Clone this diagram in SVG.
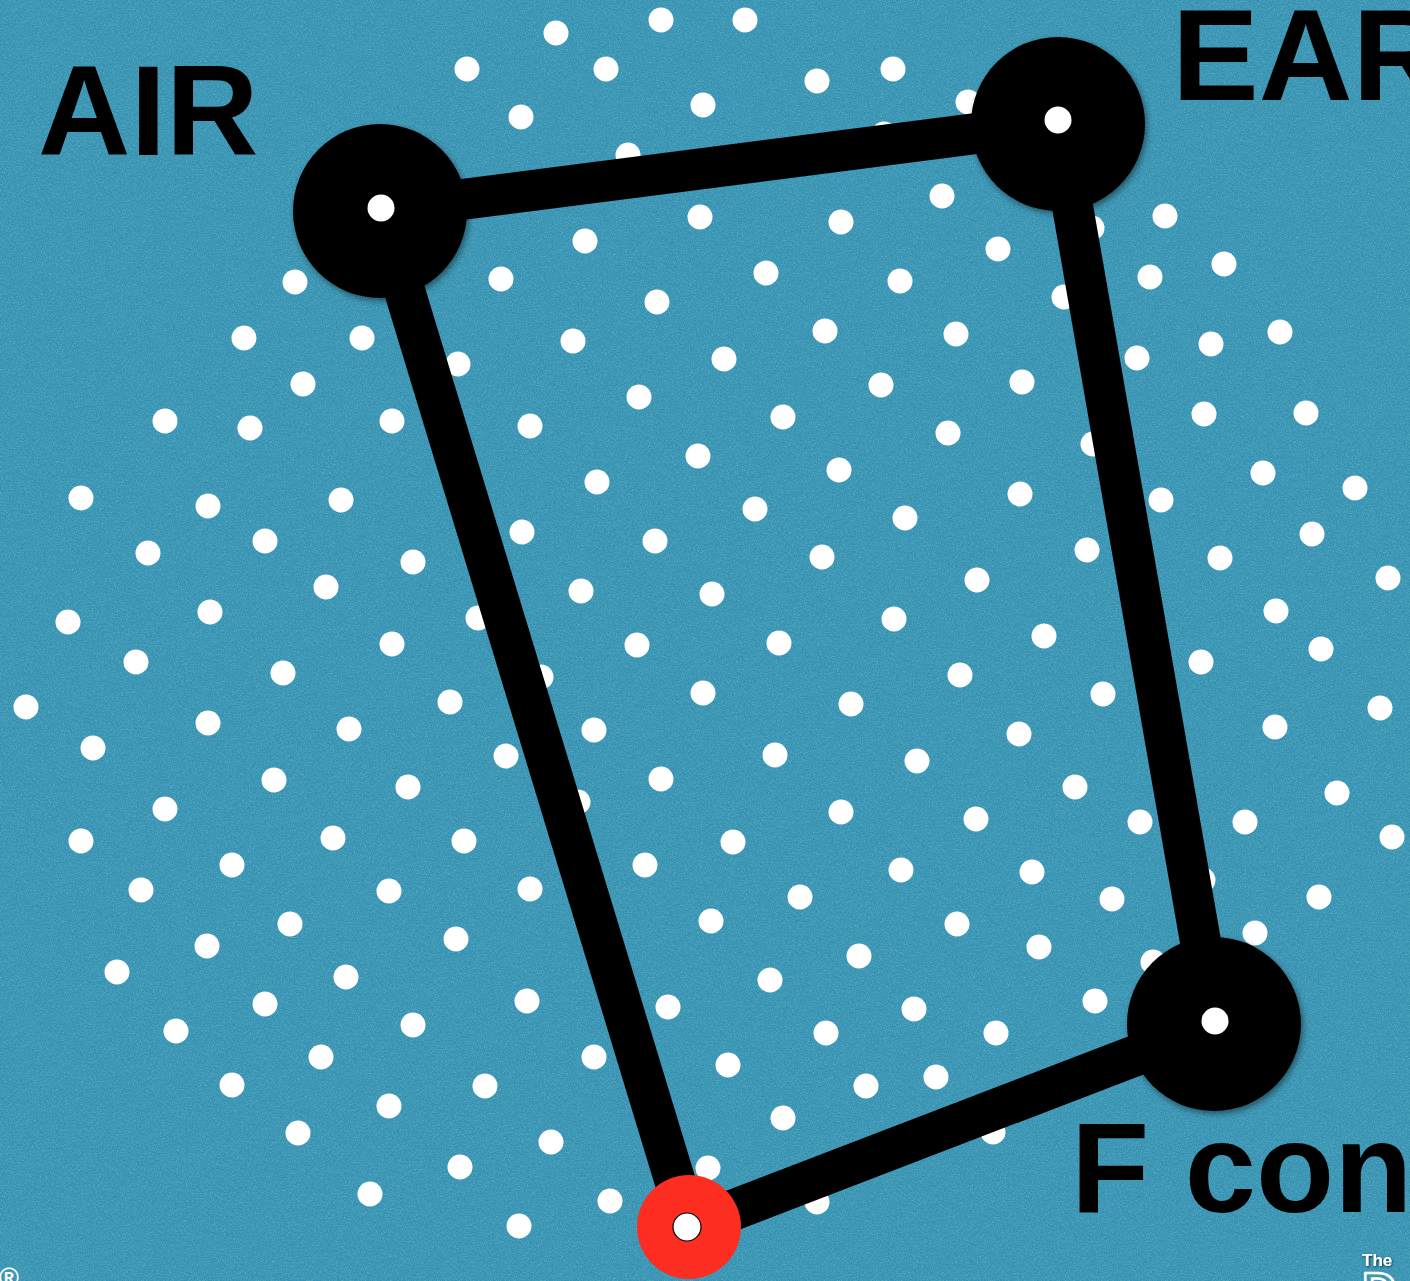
<svg xmlns="http://www.w3.org/2000/svg" width="1410" height="1281" viewBox="0 0 1410 1281">
<defs>
<filter id="noise" x="0" y="0" width="1410" height="1281" filterUnits="userSpaceOnUse">
<feTurbulence type="fractalNoise" baseFrequency="0.75" numOctaves="2" seed="7" result="t"/>
<feColorMatrix in="t" type="matrix" values="0 0 0 0 0.1  0 0 0 0 0.4  0 0 0 0 0.53  2.4 0 0 0 -0.95"/>
</filter>
<filter id="shadow" x="-20%" y="-20%" width="140%" height="140%">
<feDropShadow dx="2" dy="3" stdDeviation="3" flood-color="#000" flood-opacity="0.45"/>
</filter>
<filter id="tshadow" x="-20%" y="-20%" width="140%" height="140%">
<feDropShadow dx="1" dy="1" stdDeviation="1" flood-color="#000" flood-opacity="0.7"/>
</filter>
</defs>
<style>
.dot{fill:#fff}
.edge{stroke:#000;stroke-width:41;stroke-linecap:butt;fill:none}
.hub{fill:#000}
.core{fill:#fff}
.label{font-family:"Liberation Sans",Arial,Helvetica,sans-serif;font-weight:bold;fill:#000}
</style>
<rect width="1410" height="1281" fill="#3591b1"/>
<rect width="1410" height="1281" fill="#000" filter="url(#noise)"/>
<g id="dots">
<circle class="dot" cx="556" cy="33" r="12.5"/>
<circle class="dot" cx="661" cy="20" r="12.5"/>
<circle class="dot" cx="745" cy="20" r="12.5"/>
<circle class="dot" cx="467" cy="69" r="12.5"/>
<circle class="dot" cx="606" cy="69" r="12.5"/>
<circle class="dot" cx="703" cy="105" r="12.5"/>
<circle class="dot" cx="817" cy="81" r="12.5"/>
<circle class="dot" cx="893" cy="69" r="12.5"/>
<circle class="dot" cx="521" cy="117" r="12.5"/>
<circle class="dot" cx="628" cy="155" r="12.5"/>
<circle class="dot" cx="968" cy="102" r="12.5"/>
<circle class="dot" cx="884" cy="134" r="12.5"/>
<circle class="dot" cx="700" cy="217" r="12.5"/>
<circle class="dot" cx="585" cy="241" r="12.5"/>
<circle class="dot" cx="841" cy="222" r="12.5"/>
<circle class="dot" cx="942" cy="196" r="12.5"/>
<circle class="dot" cx="1165" cy="216" r="12.5"/>
<circle class="dot" cx="998" cy="249" r="12.5"/>
<circle class="dot" cx="1092" cy="228" r="12.5"/>
<circle class="dot" cx="501" cy="279" r="12.5"/>
<circle class="dot" cx="657" cy="302" r="12.5"/>
<circle class="dot" cx="766" cy="273" r="12.5"/>
<circle class="dot" cx="900" cy="281" r="12.5"/>
<circle class="dot" cx="1150" cy="277" r="12.5"/>
<circle class="dot" cx="1224" cy="264" r="12.5"/>
<circle class="dot" cx="1064" cy="297" r="12.5"/>
<circle class="dot" cx="295" cy="282" r="12.5"/>
<circle class="dot" cx="244" cy="338" r="12.5"/>
<circle class="dot" cx="362" cy="338" r="12.5"/>
<circle class="dot" cx="573" cy="341" r="12.5"/>
<circle class="dot" cx="458" cy="364" r="12.5"/>
<circle class="dot" cx="724" cy="359" r="12.5"/>
<circle class="dot" cx="825" cy="331" r="12.5"/>
<circle class="dot" cx="956" cy="334" r="12.5"/>
<circle class="dot" cx="1137" cy="358" r="12.5"/>
<circle class="dot" cx="1211" cy="344" r="12.5"/>
<circle class="dot" cx="1280" cy="332" r="12.5"/>
<circle class="dot" cx="303" cy="384" r="12.5"/>
<circle class="dot" cx="639" cy="397" r="12.5"/>
<circle class="dot" cx="881" cy="385" r="12.5"/>
<circle class="dot" cx="1022" cy="382" r="12.5"/>
<circle class="dot" cx="165" cy="421" r="12.5"/>
<circle class="dot" cx="250" cy="428" r="12.5"/>
<circle class="dot" cx="392" cy="421" r="12.5"/>
<circle class="dot" cx="530" cy="426" r="12.5"/>
<circle class="dot" cx="783" cy="417" r="12.5"/>
<circle class="dot" cx="948" cy="433" r="12.5"/>
<circle class="dot" cx="1204" cy="414" r="12.5"/>
<circle class="dot" cx="1306" cy="413" r="12.5"/>
<circle class="dot" cx="1093" cy="444" r="12.5"/>
<circle class="dot" cx="698" cy="456" r="12.5"/>
<circle class="dot" cx="839" cy="470" r="12.5"/>
<circle class="dot" cx="1263" cy="473" r="12.5"/>
<circle class="dot" cx="597" cy="482" r="12.5"/>
<circle class="dot" cx="81" cy="498" r="12.5"/>
<circle class="dot" cx="208" cy="506" r="12.5"/>
<circle class="dot" cx="341" cy="500" r="12.5"/>
<circle class="dot" cx="755" cy="509" r="12.5"/>
<circle class="dot" cx="905" cy="518" r="12.5"/>
<circle class="dot" cx="1020" cy="494" r="12.5"/>
<circle class="dot" cx="1161" cy="500" r="12.5"/>
<circle class="dot" cx="1355" cy="488" r="12.5"/>
<circle class="dot" cx="148" cy="553" r="12.5"/>
<circle class="dot" cx="265" cy="541" r="12.5"/>
<circle class="dot" cx="413" cy="562" r="12.5"/>
<circle class="dot" cx="522" cy="532" r="12.5"/>
<circle class="dot" cx="655" cy="541" r="12.5"/>
<circle class="dot" cx="822" cy="557" r="12.5"/>
<circle class="dot" cx="1087" cy="550" r="12.5"/>
<circle class="dot" cx="1220" cy="558" r="12.5"/>
<circle class="dot" cx="1312" cy="534" r="12.5"/>
<circle class="dot" cx="326" cy="587" r="12.5"/>
<circle class="dot" cx="581" cy="591" r="12.5"/>
<circle class="dot" cx="712" cy="594" r="12.5"/>
<circle class="dot" cx="977" cy="580" r="12.5"/>
<circle class="dot" cx="1388" cy="578" r="12.5"/>
<circle class="dot" cx="68" cy="622" r="12.5"/>
<circle class="dot" cx="210" cy="612" r="12.5"/>
<circle class="dot" cx="478" cy="618" r="12.5"/>
<circle class="dot" cx="894" cy="619" r="12.5"/>
<circle class="dot" cx="1044" cy="636" r="12.5"/>
<circle class="dot" cx="1276" cy="611" r="12.5"/>
<circle class="dot" cx="136" cy="662" r="12.5"/>
<circle class="dot" cx="392" cy="644" r="12.5"/>
<circle class="dot" cx="637" cy="645" r="12.5"/>
<circle class="dot" cx="779" cy="643" r="12.5"/>
<circle class="dot" cx="1201" cy="662" r="12.5"/>
<circle class="dot" cx="1321" cy="649" r="12.5"/>
<circle class="dot" cx="283" cy="673" r="12.5"/>
<circle class="dot" cx="541" cy="677" r="12.5"/>
<circle class="dot" cx="960" cy="675" r="12.5"/>
<circle class="dot" cx="26" cy="707" r="12.5"/>
<circle class="dot" cx="450" cy="702" r="12.5"/>
<circle class="dot" cx="703" cy="693" r="12.5"/>
<circle class="dot" cx="851" cy="704" r="12.5"/>
<circle class="dot" cx="1103" cy="694" r="12.5"/>
<circle class="dot" cx="1380" cy="708" r="12.5"/>
<circle class="dot" cx="93" cy="748" r="12.5"/>
<circle class="dot" cx="208" cy="723" r="12.5"/>
<circle class="dot" cx="349" cy="729" r="12.5"/>
<circle class="dot" cx="594" cy="730" r="12.5"/>
<circle class="dot" cx="1019" cy="734" r="12.5"/>
<circle class="dot" cx="1275" cy="727" r="12.5"/>
<circle class="dot" cx="506" cy="756" r="12.5"/>
<circle class="dot" cx="775" cy="755" r="12.5"/>
<circle class="dot" cx="917" cy="761" r="12.5"/>
<circle class="dot" cx="274" cy="780" r="12.5"/>
<circle class="dot" cx="408" cy="787" r="12.5"/>
<circle class="dot" cx="661" cy="779" r="12.5"/>
<circle class="dot" cx="1075" cy="787" r="12.5"/>
<circle class="dot" cx="1337" cy="793" r="12.5"/>
<circle class="dot" cx="165" cy="809" r="12.5"/>
<circle class="dot" cx="578" cy="802" r="12.5"/>
<circle class="dot" cx="841" cy="812" r="12.5"/>
<circle class="dot" cx="976" cy="819" r="12.5"/>
<circle class="dot" cx="1140" cy="822" r="12.5"/>
<circle class="dot" cx="1245" cy="822" r="12.5"/>
<circle class="dot" cx="81" cy="841" r="12.5"/>
<circle class="dot" cx="333" cy="838" r="12.5"/>
<circle class="dot" cx="464" cy="841" r="12.5"/>
<circle class="dot" cx="733" cy="842" r="12.5"/>
<circle class="dot" cx="1392" cy="837" r="12.5"/>
<circle class="dot" cx="232" cy="865" r="12.5"/>
<circle class="dot" cx="645" cy="865" r="12.5"/>
<circle class="dot" cx="901" cy="870" r="12.5"/>
<circle class="dot" cx="1032" cy="872" r="12.5"/>
<circle class="dot" cx="141" cy="890" r="12.5"/>
<circle class="dot" cx="389" cy="891" r="12.5"/>
<circle class="dot" cx="530" cy="889" r="12.5"/>
<circle class="dot" cx="800" cy="897" r="12.5"/>
<circle class="dot" cx="1112" cy="899" r="12.5"/>
<circle class="dot" cx="1203" cy="880" r="12.5"/>
<circle class="dot" cx="1319" cy="897" r="12.5"/>
<circle class="dot" cx="290" cy="924" r="12.5"/>
<circle class="dot" cx="711" cy="921" r="12.5"/>
<circle class="dot" cx="957" cy="924" r="12.5"/>
<circle class="dot" cx="1255" cy="933" r="12.5"/>
<circle class="dot" cx="207" cy="946" r="12.5"/>
<circle class="dot" cx="456" cy="939" r="12.5"/>
<circle class="dot" cx="859" cy="956" r="12.5"/>
<circle class="dot" cx="1039" cy="947" r="12.5"/>
<circle class="dot" cx="117" cy="972" r="12.5"/>
<circle class="dot" cx="346" cy="977" r="12.5"/>
<circle class="dot" cx="770" cy="980" r="12.5"/>
<circle class="dot" cx="1153" cy="962" r="12.5"/>
<circle class="dot" cx="265" cy="1004" r="12.5"/>
<circle class="dot" cx="527" cy="1001" r="12.5"/>
<circle class="dot" cx="668" cy="1007" r="12.5"/>
<circle class="dot" cx="914" cy="1009" r="12.5"/>
<circle class="dot" cx="1095" cy="1001" r="12.5"/>
<circle class="dot" cx="176" cy="1031" r="12.5"/>
<circle class="dot" cx="413" cy="1025" r="12.5"/>
<circle class="dot" cx="826" cy="1033" r="12.5"/>
<circle class="dot" cx="996" cy="1033" r="12.5"/>
<circle class="dot" cx="321" cy="1057" r="12.5"/>
<circle class="dot" cx="594" cy="1057" r="12.5"/>
<circle class="dot" cx="728" cy="1065" r="12.5"/>
<circle class="dot" cx="232" cy="1085" r="12.5"/>
<circle class="dot" cx="485" cy="1086" r="12.5"/>
<circle class="dot" cx="866" cy="1086" r="12.5"/>
<circle class="dot" cx="936" cy="1077" r="12.5"/>
<circle class="dot" cx="389" cy="1106" r="12.5"/>
<circle class="dot" cx="783" cy="1118" r="12.5"/>
<circle class="dot" cx="298" cy="1133" r="12.5"/>
<circle class="dot" cx="551" cy="1142" r="12.5"/>
<circle class="dot" cx="993" cy="1132" r="12.5"/>
<circle class="dot" cx="460" cy="1167" r="12.5"/>
<circle class="dot" cx="708" cy="1168" r="12.5"/>
<circle class="dot" cx="370" cy="1194" r="12.5"/>
<circle class="dot" cx="610" cy="1201" r="12.5"/>
<circle class="dot" cx="817" cy="1202" r="12.5"/>
<circle class="dot" cx="519" cy="1226" r="12.5"/>
</g>
<g id="connectors">
<line class="edge" x1="380" y1="210" x2="1058" y2="123"/>
<line class="edge" x1="1058" y1="123" x2="1215" y2="1025"/>
<line class="edge" x1="1215" y1="1025" x2="689" y2="1227"/>
<line class="edge" x1="689" y1="1227" x2="380" y2="210"/>
</g>
<g id="node-air">
<circle class="hub" cx="380" cy="211" r="87" filter="url(#shadow)"/>
<circle class="core" cx="381" cy="208" r="13.5"/>
</g>
<g id="node-ear">
<circle class="hub" cx="1058" cy="124" r="87" filter="url(#shadow)"/>
<circle class="core" cx="1058" cy="120" r="13.5"/>
</g>
<g id="node-fcon">
<circle class="hub" cx="1214" cy="1024" r="87" filter="url(#shadow)"/>
<circle class="core" cx="1215" cy="1021" r="13.5"/>
</g>
<g id="node-red">
<circle cx="689" cy="1227" r="52" fill="#fd2d22"/>
<circle cx="687" cy="1227" r="14" fill="#fff" stroke="#000" stroke-width="1.2"/>
</g>
<g id="labels">
<text class="label" x="38" y="155" font-size="128">AIR</text>
<text class="label" x="1172" y="100" font-size="130">EAR</text>
<text class="label" x="1071" y="1212" font-size="128">F con</text>
<text x="-1" y="1287" font-size="27" fill="#fff" font-family="Liberation Sans,Arial,sans-serif" font-weight="bold">®</text>
<text x="1362" y="1266" font-size="17" fill="#fff" font-family="Liberation Sans,Arial,sans-serif" font-weight="bold" filter="url(#tshadow)">The</text>
<text x="1362" y="1306" font-size="48" fill="none" stroke="#fff" stroke-width="2.5" font-family="Liberation Sans,Arial,sans-serif" font-weight="bold">D</text>
</g>
</svg>
